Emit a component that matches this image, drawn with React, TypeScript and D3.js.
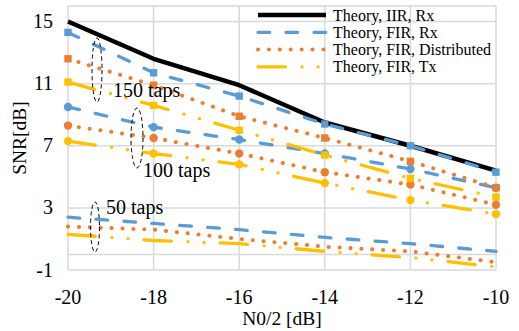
import React from "react";
import * as d3 from "d3";

// N0/2 [dB]
const noiseLevels = [-20, -18, -16, -14, -12, -10];
const yTicks = [-1, 3, 7, 11, 15];

// SNR [dB]
const iirRx = [15.0, 12.6, 10.9, 8.5, 7.0, 5.4];

const firRx150 = [14.3, 11.7, 10.2, 8.4, 7.0, 5.3];
const firRx100 = [9.5, 8.2, 7.4, 6.5, 5.5, 4.3];
const firRx50 = [2.4, 2.0, 1.6, 1.1, 0.7, 0.2];

const dist150 = [12.6, 10.9, 8.9, 7.5, 6.0, 4.3];
const dist100 = [8.3, 7.5, 6.5, 5.3, 4.5, 3.2];
const dist50 = [1.8, 1.6, 1.0, 0.5, 0.2, -0.5];

const tx150 = [11.1, 9.6, 8.0, 6.4, 4.9, 3.7];
const tx100 = [7.3, 6.5, 5.8, 4.6, 3.5, 2.6];
const tx50 = [1.3, 0.9, 0.7, 0.2, -0.2, -0.8];

const legendNames = [
  "Theory, IIR, Rx",
  "Theory, FIR, Rx",
  "Theory, FIR, Distributed",
  "Theory, FIR, Tx",
];

const styles = {
  iir: { color: "#000000", width: 4.5, dash: undefined, cap: "butt" },
  rx: { color: "#5B9BD5", width: 3.3, dash: "11.7 16.3", cap: "round" },
  dist: { color: "#ED7D31", width: 4, dash: "0.1 10.8", cap: "round" },
  tx: {
    color: "#FFC000",
    width: 3.3,
    dash: "27.4 16.6 0.1 16 0.1 16",
    cap: "round",
  },
};
const legendStyles = [styles.iir, styles.rx, styles.dist, styles.tx];

// draw order: theory lines first, blue on top of black
const series = [
  { values: iirRx, style: styles.iir, marker: null },
  { values: tx50, style: styles.tx, marker: null },
  { values: dist50, style: styles.dist, marker: null },
  { values: firRx50, style: styles.rx, marker: null },
  { values: tx100, style: styles.tx, marker: "circle" },
  { values: dist100, style: styles.dist, marker: "circle" },
  { values: firRx100, style: styles.rx, marker: "circle" },
  { values: tx150, style: styles.tx, marker: "square" },
  { values: dist150, style: styles.dist, marker: "square" },
  { values: firRx150, style: styles.rx, marker: "square" },
];

const textStyle = {
  fontFamily: '"Liberation Serif", "DejaVu Serif", serif',
  fill: "#000",
};

export default function App() {
  const width = 519;
  const height = 331;
  const plot = { left: 68, right: 496, top: 6, bottom: 270 };

  const x = d3.scaleLinear().domain([-20, -10]).range([plot.left, plot.right]);
  const y = d3.scaleLinear().domain([-1, 16]).range([plot.bottom, plot.top]);

  const line = d3
    .line<number>()
    .x((d, i) => x(noiseLevels[i]))
    .y((d) => y(d));

  const gridColor = "#d9d9d9";

  return (
    <div style={{ position: "absolute", left: 0, top: 0 }}>
      <svg width={width} height={height} style={{ display: "block", background: "#fff" }}>
        {/* gridlines */}
        {noiseLevels.map((v) => (
          <line
            key={"vx" + v}
            x1={x(v)}
            x2={x(v)}
            y1={plot.top}
            y2={plot.bottom}
            stroke={gridColor}
            strokeWidth={1.5}
          />
        ))}
        {[...yTicks, 16, 0].map((v) => (
          <line
            key={"hy" + v}
            x1={plot.left}
            x2={plot.right}
            y1={y(v)}
            y2={y(v)}
            stroke={gridColor}
            strokeWidth={1.5}
          />
        ))}

        {/* tick labels */}
        {yTicks.map((v) => (
          <text
            key={"yl" + v}
            x={53}
            y={y(v) + 6.5}
            textAnchor="end"
            style={{ ...textStyle, fontSize: 20 }}
          >
            {v}
          </text>
        ))}
        {noiseLevels.map((v) => (
          <text
            key={"xl" + v}
            x={x(v)}
            y={304}
            textAnchor="middle"
            style={{ ...textStyle, fontSize: 20 }}
          >
            {v}
          </text>
        ))}

        {/* axis titles */}
        <text
          x={(plot.left + plot.right) / 2}
          y={325}
          textAnchor="middle"
          style={{ ...textStyle, fontSize: 19.5 }}
        >
          N0/2 [dB]
        </text>
        <text
          transform={`translate(26,${(plot.top + plot.bottom) / 2}) rotate(-90)`}
          textAnchor="middle"
          style={{ ...textStyle, fontSize: 19.5 }}
        >
          SNR[dB]
        </text>

        {/* series lines */}
        {series.map((s, i) => (
          <path
            key={"s" + i}
            d={line(s.values) || ""}
            fill="none"
            stroke={s.style.color}
            strokeWidth={s.style.width}
            strokeDasharray={s.style.dash}
            strokeLinecap={s.style.cap as any}
            strokeLinejoin="round"
          />
        ))}

        {/* markers */}
        {series.map((s, i) =>
          s.marker === "square"
            ? s.values.map((v, j) => (
                <rect
                  key={"m" + i + "_" + j}
                  x={x(noiseLevels[j]) - 3.7}
                  y={y(v) - 3.7}
                  width={7.4}
                  height={7.4}
                  fill={s.style.color}
                />
              ))
            : s.marker === "circle"
            ? s.values.map((v, j) => (
                <circle
                  key={"m" + i + "_" + j}
                  cx={x(noiseLevels[j])}
                  cy={y(v)}
                  r={4.2}
                  fill={s.style.color}
                />
              ))
            : null
        )}

        {/* legend */}
        {legendNames.map((name, i) => {
          const ly = 15 + i * 17.3;
          const st = legendStyles[i];
          return (
            <g key={"lg" + i}>
              <line
                x1={258}
                x2={326}
                y1={ly}
                y2={ly}
                stroke={st.color}
                strokeWidth={st.width}
                strokeDasharray={st.dash}
                strokeLinecap={st.cap as any}
              />
              <text x={333} y={ly + 5.5} style={{ ...textStyle, fontSize: 16 }}>
                {name}
              </text>
            </g>
          );
        })}

        {/* tap annotations */}
        <ellipse cx={97} cy={70} rx={5} ry={32} fill="none" stroke="#000" strokeWidth={1} strokeDasharray="4 3" />
        <ellipse cx={137} cy={138} rx={6} ry={30} fill="none" stroke="#000" strokeWidth={1} strokeDasharray="4 3" />
        <ellipse cx={95} cy={227} rx={4.5} ry={25} fill="none" stroke="#000" strokeWidth={1} strokeDasharray="4 3" />
        <text x={113} y={97} style={{ ...textStyle, fontSize: 20 }}>
          150 taps
        </text>
        <text x={143} y={177} style={{ ...textStyle, fontSize: 20 }}>
          100 taps
        </text>
        <text x={106} y={214} style={{ ...textStyle, fontSize: 20 }}>
          50 taps
        </text>
      </svg>
    </div>
  );
}
